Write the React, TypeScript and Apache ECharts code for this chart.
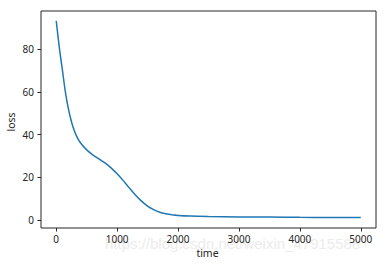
import React, { useEffect, useRef } from "react";
import * as echarts from "echarts";

const timeSteps = [0, 50, 100, 150, 200, 250, 300, 350, 400, 500, 600, 700, 800, 900, 1000, 1100, 1200, 1300, 1400, 1500, 1600, 1700, 1800, 1900, 2000, 2200, 2500, 3000, 3500, 4000, 4500, 5000];
const lossValues = [93.3, 81, 70.5, 60, 52, 46, 41.5, 38.3, 36, 32.8, 30.5, 28.6, 26.7, 24.4, 21.6, 18.4, 15, 11.7, 8.8, 6.5, 4.8, 3.6, 2.9, 2.4, 2.1, 1.8, 1.6, 1.4, 1.3, 1.2, 1.15, 1.1];
const xTicks = [0, 1000, 2000, 3000, 4000, 5000];
const yTicks = [0, 20, 40, 60, 80];
const xName = "time";
const yName = "loss";
const watermark = "https://blog.csdn.net/weixin_47915588";

export default function App() {
  const ref = useRef<HTMLDivElement>(null);
  useEffect(() => {
    const chart = echarts.init(ref.current!, null, { renderer: "svg" });
    const font = "Noto Sans";
    const labelStyle = { color: "#262626", fontSize: 10, fontFamily: font, formatter: (v: number) => String(v) };
    chart.setOption({
      animation: false,
      backgroundColor: "#ffffff",
      grid: { left: 41, top: 11, right: 10, bottom: 38, show: true, borderColor: "#262626", borderWidth: 1, backgroundColor: "transparent" },
      xAxis: {
        type: "value",
        min: -250,
        max: 5250,
        splitLine: { show: false },
        axisLine: { show: false, onZero: false },
        axisTick: { show: true, length: 3.5, inside: false, customValues: xTicks, lineStyle: { color: "#262626" } },
        axisLabel: { ...labelStyle, margin: 6, customValues: xTicks },
      },
      yAxis: {
        type: "value",
        min: -3.8,
        max: 97.9,
        splitLine: { show: false },
        axisLine: { show: false, onZero: false },
        axisTick: { show: true, length: 3.5, inside: false, customValues: yTicks, lineStyle: { color: "#262626" } },
        axisLabel: { ...labelStyle, margin: 7, customValues: yTicks },
      },
      graphic: [
        {
          type: "text",
          left: 105,
          top: 236,
          z: -1,
          style: { text: watermark, fill: "#ececec", font: "15px 'Liberation Sans'" },
        },
        {
          type: "text",
          x: 207.5,
          y: 253,
          style: { text: xName, fill: "#262626", font: `10.5px '${font}'`, align: "center", verticalAlign: "middle" },
        },
        {
          type: "text",
          x: 11,
          y: 122,
          rotation: Math.PI / 2,
          style: { text: yName, fill: "#262626", font: `10.5px '${font}'`, align: "center", verticalAlign: "middle" },
        },
      ],
      series: [
        {
          type: "line",
          data: timeSteps.map((t, i) => [t, lossValues[i]]),
          smooth: 0.3,
          showSymbol: false,
          lineStyle: { color: "#1f77b4", width: 1.5 },
        },
      ],
    });
    return () => chart.dispose();
  }, []);
  return <div ref={ref} style={{ position: "fixed", left: 0, top: 0, width: 386, height: 266 }} />;
}
